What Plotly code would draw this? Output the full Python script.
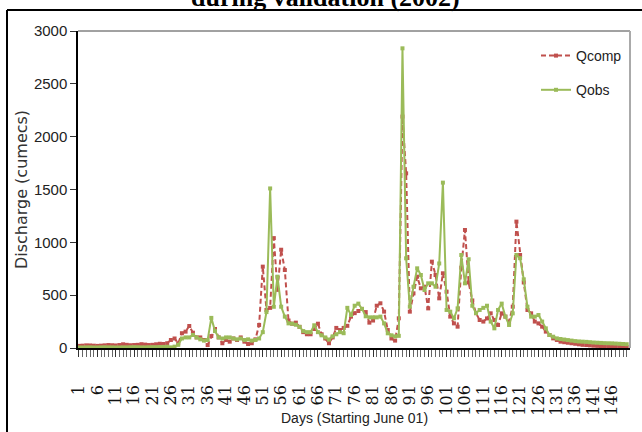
import plotly.graph_objects as go

# Daily discharge during the 2002 validation period (day 1 = June 01)
days = list(range(1, 151))

qcomp = [
    20, 22, 25, 24, 22, 20, 22, 25, 28, 26, 24, 28, 35, 30, 26, 28, 30, 36, 32, 28,
    30, 35, 40, 38, 45, 76, 90, 45, 140, 155, 208, 145, 100, 100, 76, 28, 113, 180, 100, 45,
    76, 60, 90, 76, 100, 60, 38, 45, 82, 218, 770, 360, 380, 1040, 550, 930, 738, 260, 230, 240,
    200, 150, 130, 130, 180, 230, 130, 90, 45, 100, 190, 170, 190, 210, 297, 330, 350, 370, 340, 240,
    260, 400, 423, 344, 170, 90, 70, 281, 2190, 1653, 344, 517, 675, 565, 580, 375, 817, 691, 470, 707,
    533, 297, 233, 202, 760, 1117, 620, 450, 330, 265, 250, 280, 328, 265, 218, 328, 297, 250, 391, 1196,
    880, 620, 360, 328, 250, 233, 202, 155, 123, 91, 76, 60, 55, 50, 45, 40, 35, 30, 28, 25,
    22, 20, 18, 16, 15, 14, 12, 12, 10, 10,
]

qobs = [
    5, 5, 6, 6, 5, 5, 6, 7, 6, 6, 5, 5, 6, 6, 7, 8, 7, 6, 6, 7,
    8, 8, 9, 10, 12, 6, 13, 30, 90, 100, 100, 123, 100, 82, 70, 76, 285, 160, 100, 90,
    100, 100, 90, 82, 90, 76, 82, 70, 76, 90, 150, 340, 1510, 390, 675, 391, 297, 233, 230, 220,
    200, 160, 150, 150, 215, 150, 120, 100, 80, 110, 130, 150, 140, 380, 312, 400, 420, 370, 300, 290,
    290, 290, 297, 233, 139, 120, 110, 115, 2836, 849, 391, 580, 754, 691, 549, 612, 612, 580, 800, 1565,
    360, 344, 281, 375, 880, 612, 840, 400, 330, 360, 380, 400, 250, 186, 360, 420, 297, 218, 328, 880,
    850, 650, 391, 297, 297, 312, 250, 186, 123, 107, 91, 85, 80, 75, 70, 65, 62, 60, 58, 55,
    52, 50, 48, 46, 45, 44, 42, 40, 38, 36,
]

tick_days = list(range(1, 150, 5))
tick_labels = [str(d) for d in tick_days]
y_ticks = [0, 500, 1000, 1500, 2000, 2500, 3000]

RED = "#C0504D"
GREEN = "#9BBB59"
SANS = "Liberation Sans Narrow, Arial Narrow, Liberation Sans, sans-serif"

W, H = 642, 432
L, R, T, B = 78, 12, 31, 84
PW, PH = W - L - R, H - T - B


def px_x(p):
    return (p - L) / PW


def px_y(p):
    return (H - B - p) / PH


fig = go.Figure()
fig.add_trace(go.Scatter(
    x=days, y=qcomp, name="Qcomp", mode="lines+markers", legendgroup="a",
    line=dict(color=RED, width=2, dash="5px,3px"),
    marker=dict(symbol="square", size=4, color=RED),
))
fig.add_trace(go.Scatter(
    x=days, y=qobs, name="Qobs", mode="lines+markers", legendgroup="b",
    line=dict(color=GREEN, width=2),
    marker=dict(symbol="square", size=4, color=GREEN),
))

fig.update_layout(
    width=W, height=H,
    margin=dict(l=L, r=R, t=T, b=B, pad=0),
    paper_bgcolor="white", plot_bgcolor="white",
    showlegend=True,
    legend=dict(
        x=px_x(536), y=px_y(40), xanchor="left", yanchor="top",
        bgcolor="rgba(0,0,0,0)", traceorder="grouped", tracegroupgap=13,
        font=dict(family=SANS, size=14, color="#222"),
    ),
    xaxis=dict(
        range=[0.73, 150.9], tickmode="array", tickvals=tick_days, ticktext=tick_labels,
        tickangle=-90, ticks="outside", ticklen=7, tickcolor="#333", tickwidth=1,
        minor=dict(dtick=1, tick0=0, ticks="outside", ticklen=7, tickcolor="#666", tickwidth=1),
        showline=True, linecolor="#000", linewidth=1.5, showgrid=False, zeroline=False,
        tickfont=dict(family="DejaVu Serif, Liberation Serif, serif", size=16, color="#111"),
        ticklabelstandoff=22,
    ),
    yaxis=dict(
        range=[0, 3000], tickmode="array", tickvals=y_ticks,
        ticks="outside", ticklen=6, tickcolor="#333",
        showline=True, linecolor="#000", linewidth=1.5, showgrid=False, zeroline=False,
        tickfont=dict(family=SANS, size=15, color="#222"),
        title=dict(text="Discharge (cumecs)", standoff=2,
                   font=dict(family="DejaVu Sans, Verdana, sans-serif", size=16, color="#333")),
    ),
    shapes=[
        # plot-area outline (top and right)
        dict(type="line", xref="paper", yref="paper", x0=0, x1=1, y0=1, y1=1,
             line=dict(color="#444", width=1)),
        dict(type="line", xref="paper", yref="paper", x0=1, x1=1, y0=0, y1=1,
             line=dict(color="#AAAAAA", width=2)),
        # outer frame
        dict(type="line", xref="paper", yref="paper", x0=px_x(7), x1=px_x(660),
             y0=px_y(10), y1=px_y(10), line=dict(color="#000", width=2)),
        dict(type="line", xref="paper", yref="paper", x0=px_x(7), x1=px_x(7),
             y0=px_y(10), y1=px_y(450), line=dict(color="#000", width=2)),
    ],
    annotations=[
        dict(text="<b>during validation (2002)</b>", xref="paper", yref="paper",
             x=px_x(325), y=px_y(14), xanchor="center", yanchor="bottom", showarrow=False,
             font=dict(family="Liberation Serif, Times New Roman, serif", size=26, color="#000")),
        dict(text="Days (Starting June 01)", xref="paper", yref="paper",
             x=0.5, y=px_y(418), xanchor="center", yanchor="middle", showarrow=False,
             font=dict(family=SANS, size=14, color="#222")),
    ],
)

fig.write_html("out.html")
